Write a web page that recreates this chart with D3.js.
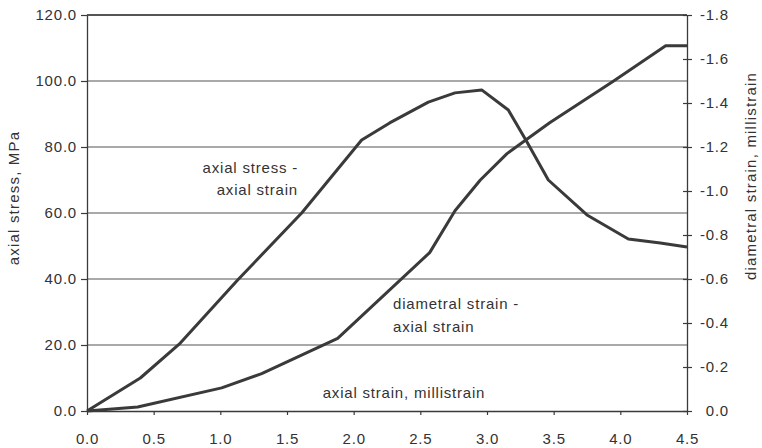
<!DOCTYPE html>
<html>
<head>
<meta charset="utf-8">
<script src="https://cdn.jsdelivr.net/npm/d3@7"></script>
<style>
  body { margin: 0; background: #fff; }
  text { font-family: "Liberation Sans", Arial, sans-serif; fill: #333; }
</style>
</head>
<body>
<div id="chart"></div>
<script>
// axial stress vs axial strain (left axis, MPa)
const stressStrain = [0, 0.40, 0.70, 1.13, 1.61, 2.06, 2.27, 2.56, 2.76, 2.96, 3.16, 3.30, 3.46, 3.75, 4.06, 4.30, 4.50];
const stressValues = [0, 10.0, 20.6, 39.7, 60.0, 82.1, 87.3, 93.6, 96.4, 97.3, 91.2, 81.5, 70.0, 59.4, 52.1, 50.9, 49.7];

// diametral strain vs axial strain (right axis, millistrain)
const diamStrain = [0, 0.38, 1.01, 1.31, 1.88, 2.57, 2.76, 2.95, 3.15, 3.47, 3.95, 4.34, 4.50];
const diamValues = [0, -0.018, -0.105, -0.17, -0.33, -0.72, -0.91, -1.05, -1.17, -1.31, -1.50, -1.66, -1.66];

const xTicks = [0, 0.5, 1.0, 1.5, 2.0, 2.5, 3.0, 3.5, 4.0, 4.5];
const leftTicks = [0, 20, 40, 60, 80, 100, 120];
const rightTicks = [0, -0.2, -0.4, -0.6, -0.8, -1.0, -1.2, -1.4, -1.6, -1.8];

const w = 762;
const h = 448;
const mLeft = 87, mRight = 687, mTop = 15, mBottom = 411;
const ink = "#3a3a3a";

const svg = d3.select('#chart')
    .append('svg')
    .attr('width', w)
    .attr('height', h);

const x = d3.scaleLinear().domain([0, 4.5]).range([mLeft, mRight]);
const yL = d3.scaleLinear().domain([0, 120]).range([mBottom, mTop]);
const yR = d3.scaleLinear().domain([0, -1.8]).range([mBottom, mTop]);

// plain hyphen for negatives, like the original
const fmt = d => d3.format(".1f")(d).replace("\u2212", "-");

//gridlines
svg.append("g")
    .selectAll("line")
    .data(leftTicks.filter(d => d > 0))
    .enter()
    .append("line")
    .attr("x1", mLeft)
    .attr("x2", mRight)
    .attr("y1", d => yL(d))
    .attr("y2", d => yL(d))
    .attr("stroke", "#555")
    .attr("stroke-width", 1.2);

//left axis
const gL = svg.append("g")
    .attr("transform", `translate(${mLeft},0)`)
    .call(d3.axisLeft(yL).tickValues(leftTicks).tickFormat(fmt).tickSizeInner(6).tickSizeOuter(0).tickPadding(4));

//right axis, ticks crossing the line
const gR = svg.append("g")
    .attr("transform", `translate(${mRight},0)`)
    .call(d3.axisRight(yR).tickValues(rightTicks).tickFormat(fmt).tickSizeInner(5).tickSizeOuter(0).tickPadding(37));
gR.selectAll(".tick line").attr("x1", -4);
gR.selectAll(".tick text").attr("text-anchor", "end");

//x axis
const gX = svg.append("g")
    .attr("transform", `translate(0,${mBottom})`)
    .call(d3.axisBottom(x).tickValues(xTicks).tickFormat(fmt).tickSizeInner(4).tickSizeOuter(0).tickPadding(18));

[gL, gR, gX].forEach(g => {
    g.select(".domain").attr("stroke", ink).attr("stroke-width", 1.3);
    g.selectAll(".tick line").attr("stroke", ink).attr("stroke-width", 1.2);
    g.selectAll(".tick text")
        .attr("fill", "#333")
        .style("font-family", '"Liberation Sans", Arial, sans-serif')
        .style("font-size", "15px")
        .style("letter-spacing", "0.8px");
});

//top border
svg.append("line")
    .attr("x1", mLeft).attr("x2", mRight)
    .attr("y1", yL(120)).attr("y2", yL(120))
    .attr("stroke", ink).attr("stroke-width", 1.3);

//curves
const stressLine = d3.line()
    .x((d, i) => x(stressStrain[i]))
    .y(d => yL(d));

const diamLine = d3.line()
    .x((d, i) => x(diamStrain[i]))
    .y(d => yR(d));

svg.append("path")
    .attr("d", stressLine(stressValues))
    .attr("fill", "none")
    .attr("stroke", ink)
    .attr("stroke-width", 3)
    .attr("stroke-linejoin", "round");

svg.append("path")
    .attr("d", diamLine(diamValues))
    .attr("fill", "none")
    .attr("stroke", ink)
    .attr("stroke-width", 3)
    .attr("stroke-linejoin", "round");

//labels
const label = (txt, lx, ly, anchor) => svg.append("text")
    .text(txt)
    .attr("x", lx)
    .attr("y", ly)
    .attr("text-anchor", anchor)
    .attr("font-size", 15)
    .style("letter-spacing", "0.8px");

label("axial stress -", 298, 173, "end");
label("axial strain", 298, 195, "end");
label("diametral strain -", 393, 309, "start");
label("axial strain", 393, 332, "start");
label("axial strain, millistrain", 404, 398, "middle");

svg.append("text")
    .text("axial stress, MPa")
    .attr("transform", "translate(19,198) rotate(-90)")
    .attr("text-anchor", "middle")
    .attr("font-size", 15)
    .style("letter-spacing", "1.2px");

svg.append("text")
    .text("diametral strain, millistrain")
    .attr("transform", "translate(756,176) rotate(-90)")
    .attr("text-anchor", "middle")
    .attr("font-size", 15)
    .style("letter-spacing", "1.2px");
</script>
</body>
</html>
